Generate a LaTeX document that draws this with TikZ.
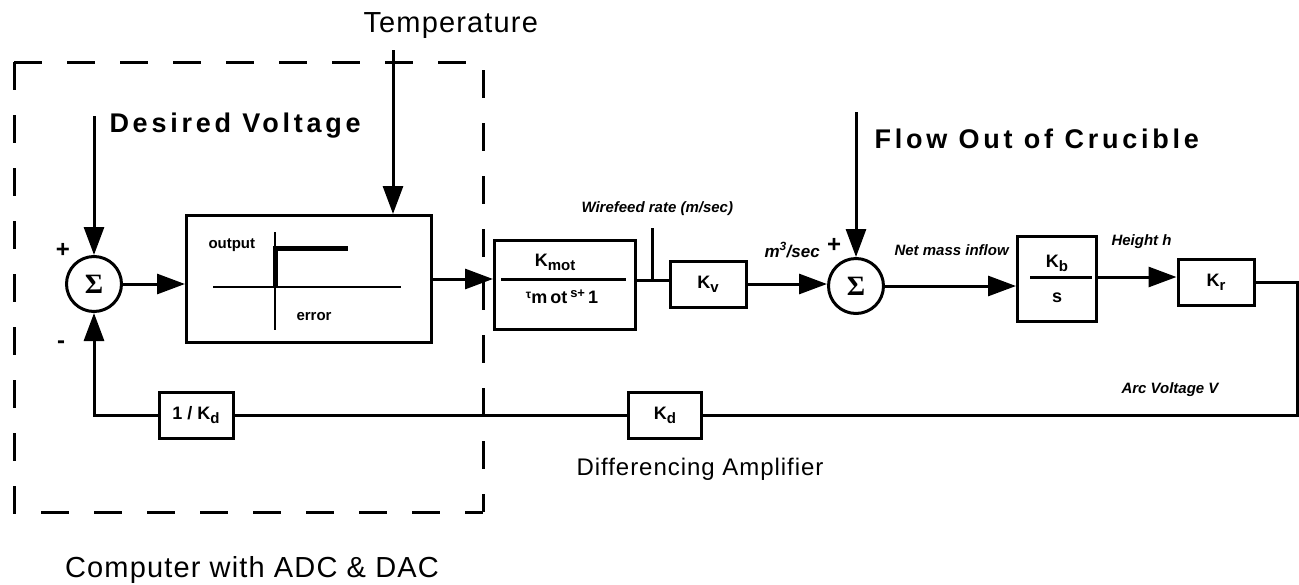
\documentclass[tikz,border=0pt]{standalone}
\usepackage{fontspec}
\setmainfont{Liberation Sans}
\newfontfamily\widefont[LetterSpace=14]{Liberation Sans}
\newfontfamily\airyfont[LetterSpace=4]{Liberation Sans}
\newfontfamily\sigmafont{Liberation Serif}
\usetikzlibrary{arrows.meta}
% lowered index as printed in the boxes
\newcommand\lowidx[1]{\raisebox{-4pt}{\fontsize{15}{15}\selectfont#1}}

\begin{document}
\begin{tikzpicture}[x=1pt,y=-1pt,line width=3pt,
  >={Triangle[length=28pt,width=20pt]},
  blk/.style={draw,inner sep=0pt,font=\fontsize{18}{18}\selectfont\bfseries},
  sum/.style={draw,circle,inner sep=0pt,minimum size=55pt,
    font=\sigmafont\bfseries\fontsize{28}{28}\selectfont},
  tag/.style={inner sep=0pt,font=\fontsize{15}{15}\selectfont\bfseries\itshape},
  axlab/.style={inner sep=0pt,font=\fontsize{15}{15}\selectfont\bfseries},
  big/.style={inner sep=0pt,font=\airyfont\fontsize{29}{29}\selectfont},
  head/.style={inner sep=0pt,font=\widefont\bfseries\fontsize{27}{27}\selectfont},
  sgn/.style={inner sep=0pt,font=\fontsize{24}{24}\selectfont\bfseries}]
  \useasboundingbox (0,0) rectangle (1299,584);

  % computer boundary
  \draw[dash pattern=on 28pt off 25pt] (14,62) -- (14,512) -- (483,512);
  \draw[dash pattern=on 28pt off 25pt] (14,62) -- (483,62) -- (483,512);

  % forward path
  \node[sum] (sum1) at (94,284) {Σ};
  \node[blk,minimum width=245pt,minimum height=127pt] (sat) at (309,279) {};
  \node[blk,minimum width=141pt,minimum height=89pt] (kmot) at (565,285) {};
  \node[blk,minimum width=76pt,minimum height=46pt] (kv) at (708,284) {K\lowidx{v}};
  \node[sum] (sum2) at (856,286) {Σ};
  \node[blk,minimum width=79pt,minimum height=85pt] (kb) at (1057,279) {};
  \node[blk,minimum width=76pt,minimum height=46pt] (kr) at (1216,282) {K\lowidx{r}};
  % feedback path
  \node[blk,minimum width=73pt,minimum height=46pt] (kd) at (665,415) {K\lowidx{d}};
  \node[blk,minimum width=74pt,minimum height=46pt] (kdinv) at (196,415) {1 / K\lowidx{d}};

  % relay characteristic inside the controller block
  \draw[line width=2.5pt] (213,287) -- (401,287);
  \draw[line width=2.5pt] (275,232) -- (275,330);
  \draw[line width=5pt] (275,287) -- (275,248) -- (348,248);
  \node[axlab,anchor=base west] (outlab) at (207,248) {output};
  \node[axlab,anchor=base west] (errlab) at (295,320) {error};

  % transfer functions
  \draw (501,279) -- (626,279);
  \node[blk,draw=none,anchor=base] (kmotnum) at (555,266) {K\lowidx{mot}};
  \node[blk,draw=none,anchor=base,font=\fontsize{18}{18}\selectfont\bfseries] (kmotden) at (562,303)
    {\raisebox{5pt}{\fontsize{12}{12}\selectfont τ}m\,ot\,\raisebox{6pt}{\fontsize{13}{13}\selectfont s+}\,1};
  \draw (1030,277) -- (1092,277);
  \node[blk,draw=none,anchor=base] (kbnum) at (1057,267) {K\lowidx{b}};
  \node[blk,draw=none,anchor=base] (kbden) at (1057,302) {s};

  % inputs
  \coordinate (dvtop) at (94,116);
  \coordinate (ttop) at (393,50);
  \coordinate (fotop) at (856,112);
  \coordinate (wire) at (652,280);
  \coordinate (hgt) at (1100,277);
  \coordinate (rgt) at (1297,415);

  % connectors
  \draw[->] (dvtop) -- (sum1);
  \draw[->] (sum1) -- (sat.west |- sum1);
  \draw[->] (ttop) -- (ttop |- sat.north);
  \draw[->] (sat.east) -- (sat.east -| kmot.west);
  \draw (kmot.east |- wire) -- (kv.west |- wire);
  \draw (wire) -- ++(0,-52);
  \draw[->] (kv.east) -- (kv.east -| sum2.west);
  \draw[->] (fotop) -- (sum2);
  \draw[->] (sum2) -- (sum2 -| kb.west);
  \draw[->] (kb.east |- hgt) -- (kr.west |- hgt);
  \draw (kr.east) -| (rgt) -- (kd.east);
  \draw (kd.west) -- (kdinv.east);
  \draw[->] (kdinv.west) -| (sum1.south);

  % signs
  \node[sgn] (p1) at (63,250) {+};
  \node[sgn] (m1) at (61,345) {-};
  \node[sgn] (p2) at (834,245) {+};

  % labels
  \node[big,anchor=base west] (temp) at (362,32) {Temperature};
  \node[head,anchor=base west] (dv) at (108,132) {Desired Voltage};
  \node[head,anchor=base west] (fo) at (873,148) {Flow Out of Crucible};
  \node[big,anchor=base] (comp) at (252,577) {Computer with ADC \& DAC};
  \node[big,anchor=base,font=\airyfont\fontsize{24}{24}\selectfont] (diff) at (700,475) {Differencing Amplifier};
  \node[tag,anchor=base west] (wf) at (580,212) {Wirefeed rate (m/sec)};
  \node[tag,anchor=base west,font=\fontsize{17}{17}\selectfont\bfseries\itshape] (flow) at (763,257) {m\textsuperscript{3}/sec};
  \node[tag,anchor=base west] (nmi) at (893,255) {Net mass inflow};
  \node[tag,anchor=base west] (hh) at (1110,245) {Height h};
  \node[tag,anchor=base west] (av) at (1120,393) {Arc Voltage V};
\end{tikzpicture}
\end{document}
